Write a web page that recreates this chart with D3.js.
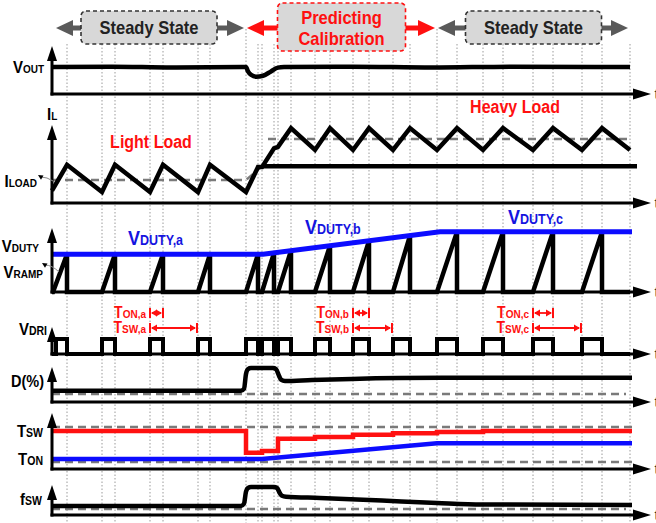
<!DOCTYPE html>
<html>
<head>
<meta charset="utf-8">
<script src="https://cdn.jsdelivr.net/npm/d3@7"></script>
<style>
  body { margin: 0; background: #fff; }
  svg { display: block; font-family: "Liberation Sans", Arial, sans-serif; font-weight: bold; }
</style>
</head>
<body>
<div id="chart"></div>
<script>
// time axis in arbitrary units (0 = origin of every trace)
const tEnd = 578;

const phases = [
    { label: ["Steady State"], start: 0, end: 194, cal: false },
    { label: ["Predicting", "Calibration"], start: 194, end: 385, cal: true },
    { label: ["Steady State"], start: 385, end: 578, cal: false }
];

// gate drive on-time pulses [start, end]
const pulses = [[4, 15], [50, 63], [98, 111], [146, 158], [194, 206], [210, 222], [226, 239],
    [263, 278], [301, 317], [341, 358], [385, 405], [431, 451], [481, 501], [530, 550]];

// every trace below: [t, level in % of its panel height]
const vout = [[0, 56], [60, 57], [120, 55], [194, 56], [196, 47], [199, 40], [204, 36], [211, 38],
    [219, 47], [226, 55], [232, 56], [300, 57], [380, 55], [460, 57], [578, 56]];
const il = [[0, 16], [15, 49], [50, 14], [63, 49], [98, 14], [111, 49], [146, 14], [158, 49], [194, 14],
    [206, 46], [210, 46], [222, 70], [226, 72], [239, 96], [263, 68], [278, 96], [301, 68], [317, 96],
    [341, 68], [358, 96], [385, 68], [405, 96], [431, 68], [451, 96], [481, 68], [501, 96], [530, 68],
    [550, 96], [578, 68]];
const iloadLight = [[0, 29.5], [194, 29.5], [210, 47]];
const iloadHeavy = [[210, 47], [585, 47]];
const ilAvgHeavy = [[216, 82], [580, 82]];
const vduty = [[0, 59], [211, 59], [388, 94], [580, 94]];
const vdriHigh = 56;
const duty = [[0, 32], [189, 32], [192, 38], [194, 80], [196, 94], [199, 97], [221, 97], [224, 94],
    [227, 75], [229, 64], [233, 60], [260, 63], [300, 66], [390, 69], [580, 69]];
const dutyRef = 23;
// switching period level after each pulse start (one per pulse)
const tswLevel = [68, 68, 68, 68, 29, 32, 54, 57, 61, 64, 66, 68, 68, 68];
const ton = [[0, 18], [210, 18], [385, 46], [580, 46]];
const tswRef = [75, 12.5];
const fsw = [[0, 30], [189, 30], [192, 38], [194, 78], [196, 90], [199, 93], [222, 93], [225, 90],
    [228, 72], [230, 64], [234, 61], [268, 57], [330, 48], [385, 40], [430, 35], [580, 33]];
const fswRef = 20;

const tonMarks = [{ pulse: 2, tag: "a" }, { pulse: 8, tag: "b" }, { pulse: 12, tag: "c" }];

const RED = "#ff1010", BLUE = "#0c0cff", GREY = "#5a5a5a";

const width = 656, height = 523;
const svg = d3.select("#chart").append("svg")
    .attr("width", width)
    .attr("height", height);

const x = d3.scaleLinear().domain([0, 600]).range([52, 652]);

// panel = [axis y, top y]
const panelBox = {
    vout: [94, 46], il: [203, 125], duty: [292, 228], dri: [354, 327],
    d: [402, 367], t: [469, 413], fsw: [515, 485]
};
const y = {};
Object.keys(panelBox).forEach(k => {
    y[k] = d3.scaleLinear().domain([0, 100]).range(panelBox[k]);
});

function tri(g, tx, ty, dx, dy, len, half, fill) {
    const bx = tx - dx * len, by = ty - dy * len;
    const px = -dy * half, py = dx * half;
    g.append("path")
        .attr("d", `M${tx},${ty}L${bx + px},${by + py}L${bx - px},${by - py}Z`)
        .attr("fill", fill);
}

function subLabel(g, px, py, parts, anchor, fill) {
    const t = g.append("text")
        .attr("class", "cond")
        .attr("x", px).attr("y", py)
        .attr("text-anchor", anchor)
        .attr("fill", fill);
    parts.forEach(p => t.append("tspan").attr("font-size", p[1]).text(p[0]));
    return t;
}

function trace(g, data, ys, color, w, curve) {
    return g.append("path")
        .datum(data)
        .attr("d", d3.line().x(d => x(d[0])).y(d => ys(d[1])).curve(curve || d3.curveLinear))
        .attr("fill", "none")
        .attr("stroke", color)
        .attr("stroke-width", w)
        .attr("stroke-linejoin", "miter");
}

function dashed(g, data, ys) {
    trace(g, data, ys, "#7a7a7a", 2.5).attr("stroke-dasharray", "8,5");
}

function interp(arr, t) {
    for (let i = 1; i < arr.length; i++) {
        if (t <= arr[i][0]) {
            const a = arr[i - 1], b = arr[i];
            return a[1] + (b[1] - a[1]) * (t - a[0]) / (b[0] - a[0]);
        }
    }
    return arr[arr.length - 1][1];
}

// ---- grid lines at every switching edge
const grid = svg.append("g");
const gridTimes = pulses.flat().filter(t => t > 10).concat([tEnd]);
gridTimes.forEach(t => {
    const boundary = phases.some(p => p.start === t && t > 0);
    grid.append("line")
        .attr("x1", x(t)).attr("x2", x(t))
        .attr("y1", boundary ? 29 : 44).attr("y2", height)
        .attr("stroke", "#9a9a9a")
        .attr("stroke-width", 1)
        .attr("stroke-dasharray", "1.5,2");
});

// ---- header: phase arrows and boxes
const head = svg.append("g");
const headY = 28;
phases.forEach((p, i) => {
    const color = p.cal ? RED : GREY;
    const x1 = x(p.start) + (i === 0 ? 4 : 1);
    const x2 = x(p.end) - 2;
    head.append("line")
        .attr("x1", x1 + 10).attr("x2", x2 - 10)
        .attr("y1", headY).attr("y2", headY)
        .attr("stroke", color).attr("stroke-width", 5);
    tri(head, x1, headY, -1, 0, 17, 8, color);
    tri(head, x2, headY, 1, 0, 17, 8, color);

    const cx = x((p.start + p.end) / 2);
    const bw = p.cal ? 128 : 136;
    const by = p.cal ? 3 : 11, bh = p.cal ? 48 : 33;
    head.append("rect")
        .attr("x", cx - bw / 2).attr("y", by)
        .attr("width", bw).attr("height", bh)
        .attr("rx", 5)
        .attr("fill", "#d8d8d8")
        .attr("stroke", p.cal ? RED : "#333")
        .attr("stroke-width", 1.6)
        .attr("stroke-dasharray", "4,3");
    p.label.forEach((s, j) => {
        head.append("text")
            .attr("class", "cond")
            .attr("x", cx)
            .attr("y", p.cal ? 24 + j * 21 : 34)
            .attr("text-anchor", "middle")
            .attr("font-size", 16.5)
            .attr("fill", p.cal ? RED : "#222")
            .text(s);
    });
});

// ---- reference (dashed) lines
const refs = svg.append("g");
dashed(refs, iloadLight, y.il);
dashed(refs, ilAvgHeavy, y.il);
dashed(refs, [[0, dutyRef], [574, dutyRef]], y.d);
dashed(refs, [[0, tswRef[0]], [580, tswRef[0]]], y.t);
dashed(refs, [[0, tswRef[1]], [580, tswRef[1]]], y.t);
dashed(refs, [[0, fswRef], [574, fswRef]], y.fsw);

// ---- traces
const tr = svg.append("g");
trace(tr, vout, y.vout, "#000", 4.5, d3.curveMonotoneX);
trace(tr, il, y.il, "#000", 4.5);
trace(tr, iloadHeavy, y.il, "#000", 4.5);

// ramp: rises during on-time up to VDUTY, then resets
const rampPts = [[0, 0]];
pulses.forEach((p, i) => {
    const s = i === 0 ? 1 : p[0];
    rampPts.push([s, 0], [p[1], interp(vduty, p[1])], [p[1], 0]);
});
rampPts.push([tEnd, 0]);
trace(tr, rampPts, y.duty, "#000", 4.5);
trace(tr, vduty, y.duty, BLUE, 5);

const driPts = [[0, 0]];
pulses.forEach(p => driPts.push([p[0], 0], [p[0], vdriHigh], [p[1], vdriHigh], [p[1], 0]));
driPts.push([tEnd, 0]);
trace(tr, driPts, y.dri, "#000", 4);

trace(tr, duty, y.d, "#000", 4.5, d3.curveMonotoneX);

const tswPts = [[0, tswLevel[0]]];
pulses.forEach((p, i) => tswPts.push([p[0], tswLevel[i]]));
tswPts.push([580, tswLevel[tswLevel.length - 1]]);
trace(tr, tswPts, y.t, RED, 4.5, d3.curveStepAfter);
trace(tr, ton, y.t, BLUE, 4.5);

trace(tr, fsw, y.fsw, "#000", 4.5, d3.curveMonotoneX);

// ---- axes
const ax = svg.append("g");
Object.keys(panelBox).forEach(k => {
    const [a, top] = panelBox[k];
    ax.append("line")
        .attr("x1", x(0)).attr("x2", x(0))
        .attr("y1", a + 1.5).attr("y2", top + 10)
        .attr("stroke", "#000").attr("stroke-width", 3);
    tri(ax, x(0), top, 0, -1, 15, 5, "#000");
    ax.append("line")
        .attr("x1", x(0) - 1.5).attr("x2", 636)
        .attr("y1", a).attr("y2", a)
        .attr("stroke", "#000").attr("stroke-width", 3);
    tri(ax, 651, a, 1, 0, 18, 5.5, "#000");
    ax.append("text")
        .attr("x", 654.5).attr("y", a + 5)
        .attr("font-size", 14)
        .attr("font-weight", "normal")
        .attr("fill", "#333")
        .text("t");
});

// ---- panel labels
const lab = svg.append("g");
subLabel(lab, 44, 73, [["V", 15], ["OUT", 10]], "end", "#000");
subLabel(lab, 47, 120, [["I", 15], ["L", 10]], "start", "#000");
subLabel(lab, 37, 187, [["I", 15], ["LOAD", 10]], "end", "#000");
subLabel(lab, 39, 252, [["V", 15], ["DUTY", 10]], "end", "#000");
subLabel(lab, 43, 278, [["V", 15], ["RAMP", 10]], "end", "#000");
subLabel(lab, 47, 335, [["V", 15], ["DRI", 10.5]], "end", "#000");
subLabel(lab, 44, 387, [["D(%)", 14.5]], "end", "#000");
subLabel(lab, 43, 437, [["T", 15], ["SW", 10.5]], "end", "#000");
subLabel(lab, 43, 465, [["T", 15], ["ON", 10.5]], "end", "#000");
subLabel(lab, 42, 505, [["f", 15], ["SW", 10.5]], "end", "#000");

// leader arrows for ILOAD / VRAMP
lab.append("path").attr("d", "M41,177 Q47,177 53,181")
    .attr("fill", "none").attr("stroke", "#888").attr("stroke-width", 1);
tri(lab, 38, 175, -0.85, -0.5, 5, 2.5, "#000");
lab.append("path").attr("d", "M45,265 Q52,265 59,272")
    .attr("fill", "none").attr("stroke", "#888").attr("stroke-width", 1);
tri(lab, 42, 263, -0.85, -0.5, 5, 2.5, "#000");

// load annotations
lab.append("text").attr("class", "cond").attr("x", x(99)).attr("y", 148).attr("text-anchor", "middle")
    .attr("font-size", 16).attr("fill", RED).text("Light Load");
lab.append("text").attr("class", "cond").attr("x", x(463)).attr("y", 113).attr("text-anchor", "middle")
    .attr("font-size", 16).attr("fill", RED).text("Heavy Load");

// VDUTY annotations
[["a", 76, 245], ["b", 253, 234], ["c", 456, 224]].forEach(d => {
    subLabel(lab, x(d[1]), d[2], [["V", 18], ["DUTY," + d[0], 12.5]], "start", "#1414e0");
});

// TON / TSW dimension arrows
function dimArrow(g, x1, x2, yy) {
    g.append("line").attr("x1", x1 + 2).attr("x2", x2 - 2).attr("y1", yy).attr("y2", yy)
        .attr("stroke", RED).attr("stroke-width", 1.8);
    [x1, x2].forEach(xx => g.append("line").attr("x1", xx).attr("x2", xx)
        .attr("y1", yy - 5).attr("y2", yy + 5).attr("stroke", RED).attr("stroke-width", 2));
    tri(g, x1 + 1, yy, -1, 0, 6, 3.5, RED);
    tri(g, x2 - 1, yy, 1, 0, 6, 3.5, RED);
}
tonMarks.forEach(m => {
    const p = pulses[m.pulse], next = pulses[m.pulse + 1];
    dimArrow(lab, x(p[0]), x(p[1]), 313);
    dimArrow(lab, x(p[0]), x(next[0]) - 1, 328);
    subLabel(lab, x(p[0]) - 4, 318, [["T", 14], ["ON," + m.tag, 10]], "end", RED);
    subLabel(lab, x(p[0]) - 4, 333, [["T", 14], ["SW," + m.tag, 10]], "end", RED);
});

// the figure uses a condensed bold face: keep each text's width, make it taller
svg.selectAll("text.cond").each(function () {
    const t = d3.select(this);
    const w = this.getComputedTextLength();
    const k = 1.14;
    const fs = +t.attr("font-size");
    if (fs) t.attr("font-size", fs * k);
    t.selectAll("tspan").each(function () {
        const s = d3.select(this);
        s.attr("font-size", +s.attr("font-size") * k);
    });
    t.attr("textLength", w).attr("lengthAdjust", "spacingAndGlyphs");
});
</script>
</body>
</html>
